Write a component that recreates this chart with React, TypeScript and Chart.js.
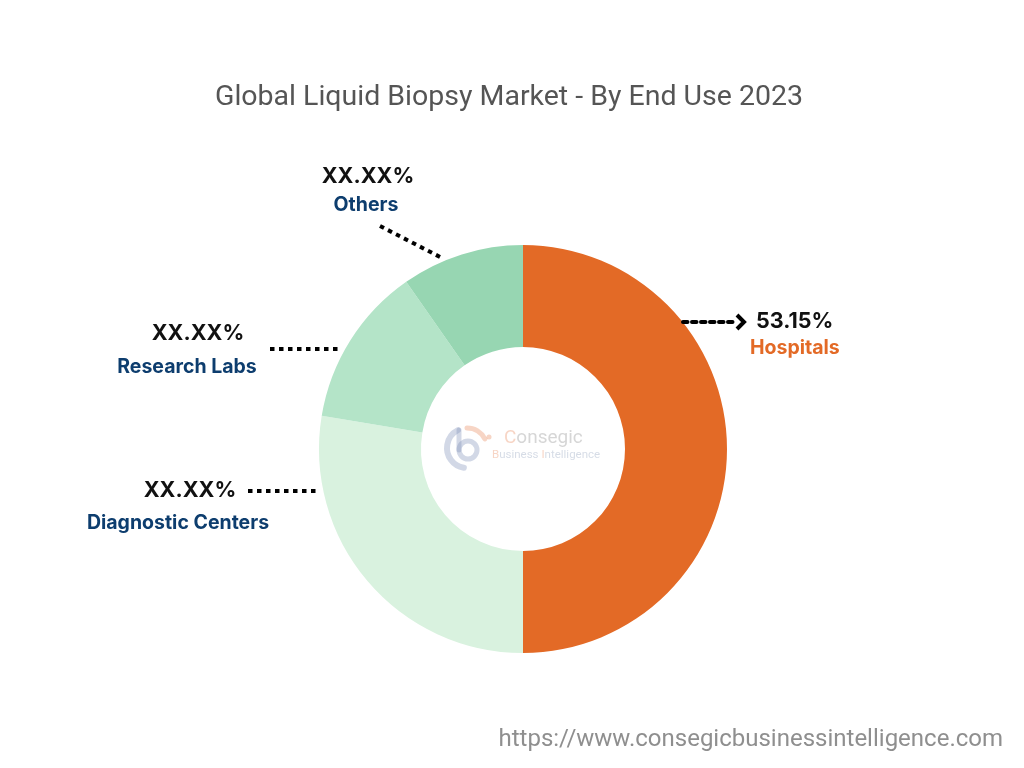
import React, { useEffect, useRef } from "react";
import { Chart, registerables } from "chart.js";

Chart.register(...registerables);

const categories = ["Hospitals", "Diagnostic Centers", "Research Labs", "Others"];
const values = [50, 27.6, 12.7, 9.7];
const valueLabels = ["53.15%", "XX.XX%", "XX.XX%", "XX.XX%"];
const colors = ["#E36A26", "#D9F2DF", "#B4E4C8", "#97D6B2"];
const titleText = "Global Liquid Biopsy Market - By End Use 2023";
const sourceText = "https://www.consegicbusinessintelligence.com";

function dottedLine(ctx: CanvasRenderingContext2D, x1: number, y1: number, x2: number, y2: number) {
  ctx.save();
  ctx.strokeStyle = "#000";
  ctx.lineWidth = 4;
  ctx.setLineDash([4.5, 4.5]);
  ctx.beginPath();
  ctx.moveTo(x1, y1);
  ctx.lineTo(x2, y2);
  ctx.stroke();
  ctx.restore();
}

const overlay = {
  id: "overlay",
  afterDraw(chart: any) {
    const ctx: CanvasRenderingContext2D = chart.ctx;
    ctx.save();
    // title
    ctx.fillStyle = "#555555";
    ctx.font = "28.5px Roboto";
    ctx.textAlign = "center";
    ctx.textBaseline = "middle";
    ctx.fillText(titleText, 509, 98);

    // source
    ctx.fillStyle = "#8f8f8f";
    ctx.font = "24px Roboto";
    ctx.textAlign = "right";
    ctx.fillText(sourceText, 1003, 740);

    // logo
    ctx.globalAlpha = 0.35;
    ctx.lineCap = "round";
    ctx.strokeStyle = "#7f8fb8";
    ctx.lineWidth = 6;
    ctx.beginPath();
    ctx.arc(467, 448, 20, Math.PI * 0.55, Math.PI * 1.35);
    ctx.stroke();
    ctx.lineWidth = 5;
    ctx.beginPath();
    ctx.arc(468, 450, 9, 0, Math.PI * 2);
    ctx.stroke();
    ctx.beginPath();
    ctx.moveTo(459, 430);
    ctx.lineTo(459, 450);
    ctx.stroke();
    ctx.strokeStyle = "#e8875a";
    ctx.lineWidth = 5;
    ctx.beginPath();
    ctx.arc(467, 448, 20, Math.PI * 1.5, Math.PI * 1.85);
    ctx.stroke();
    ctx.fillStyle = "#e8875a";
    ctx.beginPath();
    ctx.arc(489, 437, 2.5, 0, Math.PI * 2);
    ctx.fill();
    ctx.textAlign = "left";
    ctx.font = "19px Roboto";
    ctx.fillStyle = "#e8875a";
    ctx.fillText("C", 504, 438);
    ctx.fillStyle = "#8a8a8a";
    ctx.fillText("onsegic", 504 + ctx.measureText("C").width, 438);
    ctx.font = "11.5px Roboto";
    ctx.fillStyle = "#e8875a";
    ctx.fillText("B", 492, 455);
    let bx = 492 + ctx.measureText("B").width;
    ctx.fillStyle = "#8a9ab8";
    ctx.fillText("usiness ", bx, 455);
    bx += ctx.measureText("usiness ").width;
    ctx.fillStyle = "#e8875a";
    ctx.fillText("I", bx, 455);
    bx += ctx.measureText("I").width;
    ctx.fillStyle = "#8a9ab8";
    ctx.fillText("ntelligence", bx, 455);
    ctx.globalAlpha = 1;

    // leader lines
    dottedLine(ctx, 683, 322, 736, 322);
    ctx.strokeStyle = "#000";
    ctx.lineWidth = 4;
    ctx.lineCap = "butt";
    ctx.setLineDash([]);
    ctx.beginPath();
    ctx.moveTo(737, 315);
    ctx.lineTo(744, 322);
    ctx.lineTo(737, 329);
    ctx.stroke();
    dottedLine(ctx, 380, 226, 442, 258);
    dottedLine(ctx, 270, 349, 340, 349);
    dottedLine(ctx, 248, 491, 318, 491);

    // labels
    ctx.textBaseline = "middle";
    ctx.font = "bold 21.5px Inter";
    ctx.fillStyle = "#111";
    ctx.textAlign = "left";
    ctx.fillText(valueLabels[0], 756, 322);
    ctx.font = "bold 19.5px Inter";
    ctx.fillStyle = "#E36A26";
    ctx.fillText(categories[0], 750, 348);

    ctx.textAlign = "center";
    const left = [
      { i: 3, vx: 368, vy: 177, nx: 366, ny: 205 },
      { i: 2, vx: 198, vy: 334, nx: 187, ny: 367 },
      { i: 1, vx: 190, vy: 491, nx: 178, ny: 523 },
    ];
    for (const l of left) {
      ctx.font = "bold 21.5px Inter";
      ctx.fillStyle = "#111";
      ctx.fillText(valueLabels[l.i], l.vx, l.vy);
      ctx.font = "bold 19.5px Inter";
      ctx.fillStyle = "#0D3D6E";
      ctx.fillText(categories[l.i], l.nx, l.ny);
    }
    ctx.restore();
  },
};

export default function App() {
  const ref = useRef<HTMLCanvasElement>(null);
  useEffect(() => {
    document.body.style.margin = "0";
    const chart = new Chart(ref.current!, {
      type: "doughnut",
      data: {
        labels: categories,
        datasets: [
          {
            data: values,
            backgroundColor: colors,
            borderWidth: 0,
          },
        ],
      },
      options: {
        responsive: false,
        animation: false,
        cutout: "50%",
        layout: { padding: { top: 245, bottom: 115, left: 319, right: 297 } },
        plugins: {
          legend: { display: false },
          title: { display: false },
          tooltip: { enabled: false },
        },
      },
      plugins: [overlay],
    });
    return () => chart.destroy();
  }, []);
  return (
    <div style={{ position: "absolute", left: 0, top: 0, width: 1024, height: 768, background: "#fff" }}>
      <canvas ref={ref} width={1024} height={768} />
    </div>
  );
}
